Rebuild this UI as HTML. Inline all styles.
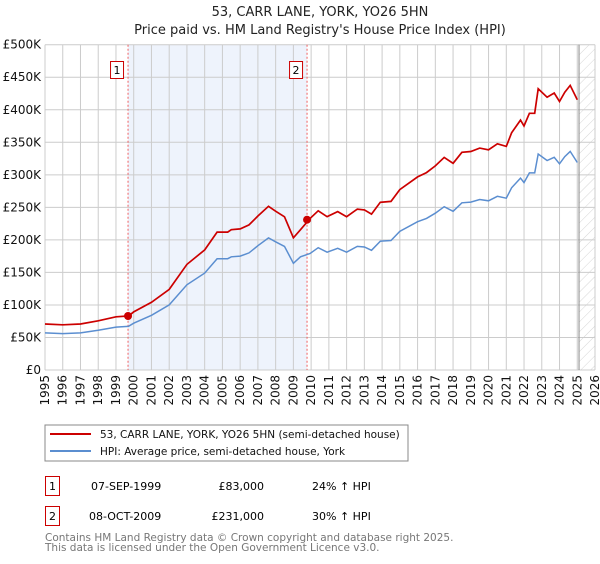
<!DOCTYPE html>
<html><head><meta charset="utf-8"><style>
body{margin:0;background:#fff;font-family:"DejaVu Sans","Liberation Sans",sans-serif;}
svg text{font-family:"DejaVu Sans","Liberation Sans",sans-serif;}
</style></head><body>
<svg id="c" width="600" height="560" xmlns="http://www.w3.org/2000/svg">
<defs><pattern id="hatch" width="7" height="7" patternUnits="userSpaceOnUse" patternTransform="rotate(45)"><line x1="0" y1="0" x2="0" y2="7" stroke="#ccc" stroke-width="0.8"/></pattern></defs>
<text x="320" y="16" text-anchor="middle" font-size="13" fill="#222">53, CARR LANE, YORK, YO26 5HN</text>
<text x="320" y="34" text-anchor="middle" font-size="13" fill="#222">Price paid vs. HM Land Registry's House Price Index (HPI)</text>
<g id="plot"></g>
<rect x="45" y="425" width="363" height="36" fill="#fff" stroke="#888"/>
<line x1="50" y1="434" x2="91" y2="434" stroke="#cc0000" stroke-width="2"/>
<text x="100" y="438" font-size="10.5" fill="#111">53, CARR LANE, YORK, YO26 5HN (semi-detached house)</text>
<line x1="50" y1="451" x2="91" y2="451" stroke="#5b8ed0" stroke-width="2"/>
<text x="100" y="455" font-size="10.5" fill="#111">HPI: Average price, semi-detached house, York</text>
<rect x="45.5" y="476.5" width="14" height="19" fill="none" stroke="#cc0000"/>
<text x="52.5" y="490" text-anchor="middle" font-size="11">1</text>
<text x="91" y="490" font-size="11">07-SEP-1999</text>
<text x="264" y="490" text-anchor="end" font-size="11">£83,000</text>
<text x="312" y="490" font-size="11">24% ↑ HPI</text>
<rect x="45.5" y="506.5" width="14" height="19" fill="none" stroke="#cc0000"/>
<text x="52.5" y="520" text-anchor="middle" font-size="11">2</text>
<text x="89" y="520" font-size="11">08-OCT-2009</text>
<text x="264" y="520" text-anchor="end" font-size="11">£231,000</text>
<text x="312" y="520" font-size="11">30% ↑ HPI</text>
<text x="45" y="541" font-size="10.5" fill="#777">Contains HM Land Registry data © Crown copyright and database right 2025.</text>
<text x="45" y="551" font-size="10.5" fill="#777">This data is licensed under the Open Government Licence v3.0.</text>
</svg>
<script>
const hpiYears=[1995,1996,1997,1998,1999,1999.7,2000,2001,2002,2003,2004,2004.7,2005.3,2005.5,2006,2006.5,2007,2007.6,2008,2008.5,2009,2009.4,2009.94,2010.4,2010.9,2011.5,2012,2012.6,2013,2013.4,2013.9,2014.5,2015,2016,2016.5,2017,2017.5,2018,2018.5,2019,2019.5,2020,2020.5,2021,2021.3,2021.8,2022,2022.3,2022.6,2022.8,2023.3,2023.7,2024,2024.3,2024.6,2025.0];
const hpiValues=[57,56,57,61,66,67,72,84,100,131,149,171,171,174,175,180,191,203,197,190,164,174,179,188,181,187,181,190,189,184,198,199,213,228,233,241,251,244,257,258,262,260,267,264,280,295,288,303,303,332,322,327,317,328,336,319];
const sales=[{t:1999.68,v:83},{t:2009.77,v:231}];
const yTicks=[0,50,100,150,200,250,300,350,400,450,500];
const yTickLabels=["£0","£50K","£100K","£150K","£200K","£250K","£300K","£350K","£400K","£450K","£500K"];
const xTicks=[1995,1996,1997,1998,1999,2000,2001,2002,2003,2004,2005,2006,2007,2008,2009,2010,2011,2012,2013,2014,2015,2016,2017,2018,2019,2020,2021,2022,2023,2024,2025,2026];
const L=45,R=595,T=44.7,B=370,x0=1995,x1=2026,vmax=500;
const X=t=>L+(t-x0)/(x1-x0)*(R-L);
const Y=v=>B-v/vmax*(B-T);
const NS="http://www.w3.org/2000/svg";
const g=document.getElementById('plot');
function mk(tag,a){const e=document.createElementNS(NS,tag);for(const k in a)e.setAttribute(k,a[k]);g.appendChild(e);return e;}
function hpiAt(t){for(let i=0;i<hpiYears.length-1;i++){if(t<=hpiYears[i+1]){const f=(t-hpiYears[i])/(hpiYears[i+1]-hpiYears[i]);return hpiValues[i]+f*(hpiValues[i+1]-hpiValues[i]);}}return hpiValues[hpiValues.length-1];}
let e=mk('rect',{x:X(sales[0].t),y:T,width:X(sales[1].t)-X(sales[0].t),height:B-T,fill:'#eef3fc'});


e=mk('rect',{x:X(2025.1),y:T,width:R-X(2025.1),height:B-T,fill:'url(#hatch)'});


xTicks.forEach((t,i)=>{
 let l=mk('line',{x1:X(t),x2:X(t),y1:T,y2:B,stroke:'#ccc','stroke-width':1});
 
 
 let tx=mk('text',{x:0,y:0,'font-size':12,fill:'#111','text-anchor':'end',transform:`translate(${X(t)+4},${B+5}) rotate(-90)`});
 tx.textContent=t;
 
 
});
yTicks.forEach((v,i)=>{
 let l=mk('line',{x1:L,x2:R,y1:Y(v),y2:Y(v),stroke:'#ccc','stroke-width':1});
 
 
 let tx=mk('text',{x:L-4,y:Y(v)+4,'font-size':12,fill:'#111','text-anchor':'end'});
 tx.textContent=yTickLabels[i];
 
 
});
e=mk('line',{x1:X(2025.1),x2:X(2025.1),y1:T,y2:B,stroke:'#888','stroke-width':1});


sales.forEach((s,i)=>{
 let l=mk('line',{x1:X(s.t),x2:X(s.t),y1:T,y2:B,stroke:'#f06060','stroke-width':1,'stroke-dasharray':'2,2'});
 
 
 let r=mk('rect',{x:X(s.t)-17.5,y:61.5,width:13,height:17,fill:'#fff',stroke:'#cc0000'});
 
 
 let tx=mk('text',{x:X(s.t)-11,y:74,'font-size':11,'text-anchor':'middle'});
 tx.textContent=String(i+1);
 
 
});
let pb=hpiYears.map((t,i)=>X(t).toFixed(1)+','+Y(hpiValues[i]).toFixed(1)).join(' ');
e=mk('polyline',{points:pb,fill:'none',stroke:'#5b8ed0','stroke-width':1.5});


const r1=sales[0].v/hpiAt(sales[0].t), r2=sales[1].v/hpiAt(sales[1].t);
let pr=hpiYears.map((t,i)=>{const r=t<sales[1].t?r1:r2;return X(t).toFixed(1)+','+Y(hpiValues[i]*r).toFixed(1);});
e=mk('polyline',{points:pr.join(' '),fill:'none',stroke:'#cc0000','stroke-width':1.7});


sales.forEach(s=>{
 let c=mk('circle',{cx:X(s.t),cy:Y(s.v),r:4,fill:'#cc0000'});
 
 
});
</script>
</body></html>
